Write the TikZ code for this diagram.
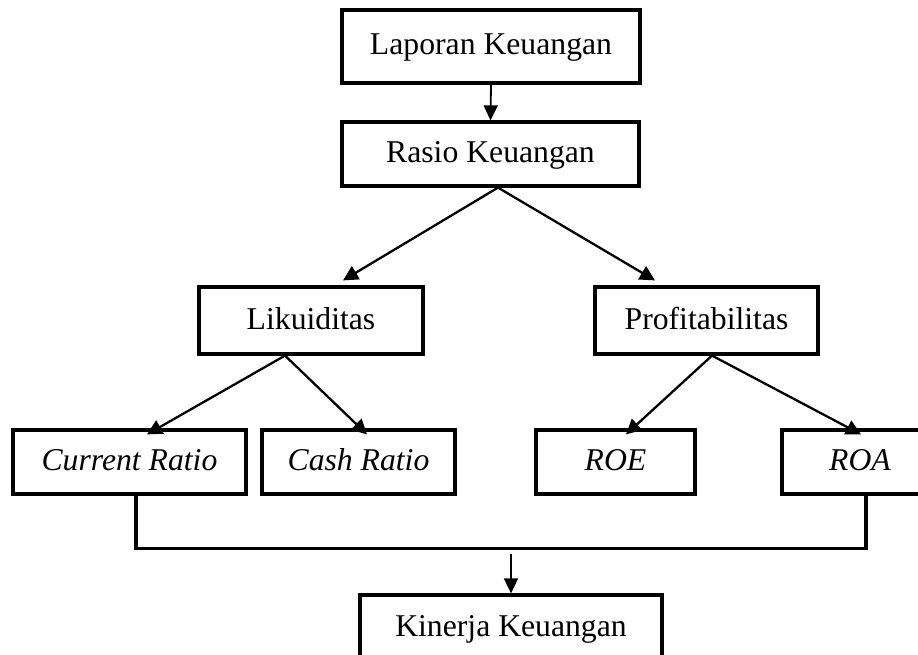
\documentclass[tikz,border=0pt]{standalone}
\usepackage{fontspec}
\setmainfont{Liberation Serif}
\usetikzlibrary{arrows.meta,calc}
\tikzset{
  box/.style={draw, line width=3.2pt, rectangle, inner sep=0pt, align=center,
    font=\fontsize{31.7}{38}\selectfont, text height=23pt, text depth=6pt},
  conn/.style={line width=2.3pt, -{Triangle[length=15pt,width=15pt]}},
  thinconn/.style={line width=1.8pt, -{Triangle[length=15pt,width=14pt]}},
  joinline/.style={line width=3.4pt}
}
\begin{document}
\begin{tikzpicture}[x=1pt,y=-1pt]
\useasboundingbox (0,0) rectangle (918,655);
\node[box, minimum width=298pt, minimum height=73pt] (lap) at (491,46.5) {Laporan Keuangan};
\node[box, minimum width=297pt, minimum height=64pt] (ras) at (490.5,154) {Rasio Keuangan};
\node[box, minimum width=224pt, minimum height=67pt] (lik) at (311,320.5) {Likuiditas};
\node[box, minimum width=223pt, minimum height=67pt] (pro) at (706.5,320.5) {Profitabilitas};
\node[box, minimum width=233pt, minimum height=64pt] (cur) at (129.5,462) {\itshape Current Ratio};
\node[box, minimum width=193pt, minimum height=64pt] (cash) at (358.5,462) {\itshape Cash Ratio};
\node[box, minimum width=159pt, minimum height=64pt] (roe) at (615.5,462) {\itshape ROE};
\node[box, minimum width=156pt, minimum height=64pt] (roa) at (860,462) {\itshape ROA};
\node[box, minimum width=302pt, minimum height=65pt] (kin) at (511,627.5) {Kinerja Keuangan};
\coordinate (joinout) at (511,554);

\draw[thinconn] (lap.south) -- (ras.north);
\draw[conn] ([xshift=7.5pt]ras.south) -- ([xshift=32pt,yshift=5pt]lik.north);
\draw[conn] ([xshift=7.5pt]ras.south) -- ([xshift=-51.5pt,yshift=5pt]pro.north);
\draw[conn] ([xshift=-26pt]lik.south) -- ([xshift=17.5pt,yshift=-6pt]cur.north);
\draw[conn] ([xshift=-26pt]lik.south) -- ([xshift=8.5pt,yshift=-6pt]cash.north);
\draw[conn] ([xshift=5.5pt]pro.south) -- ([xshift=10.5pt,yshift=-6pt]roe.north);
\draw[conn] ([xshift=5.5pt]pro.south) -- ([xshift=1pt,yshift=-6pt]roa.north);
\draw[joinline] ([xshift=6.5pt]cur.south) -- ++(0,53) -| ([xshift=6pt]roa.south);
\draw[line width=1.6pt, -{Triangle[length=15pt,width=14pt]}] (joinout) -- (kin.north);
\end{tikzpicture}
\end{document}
